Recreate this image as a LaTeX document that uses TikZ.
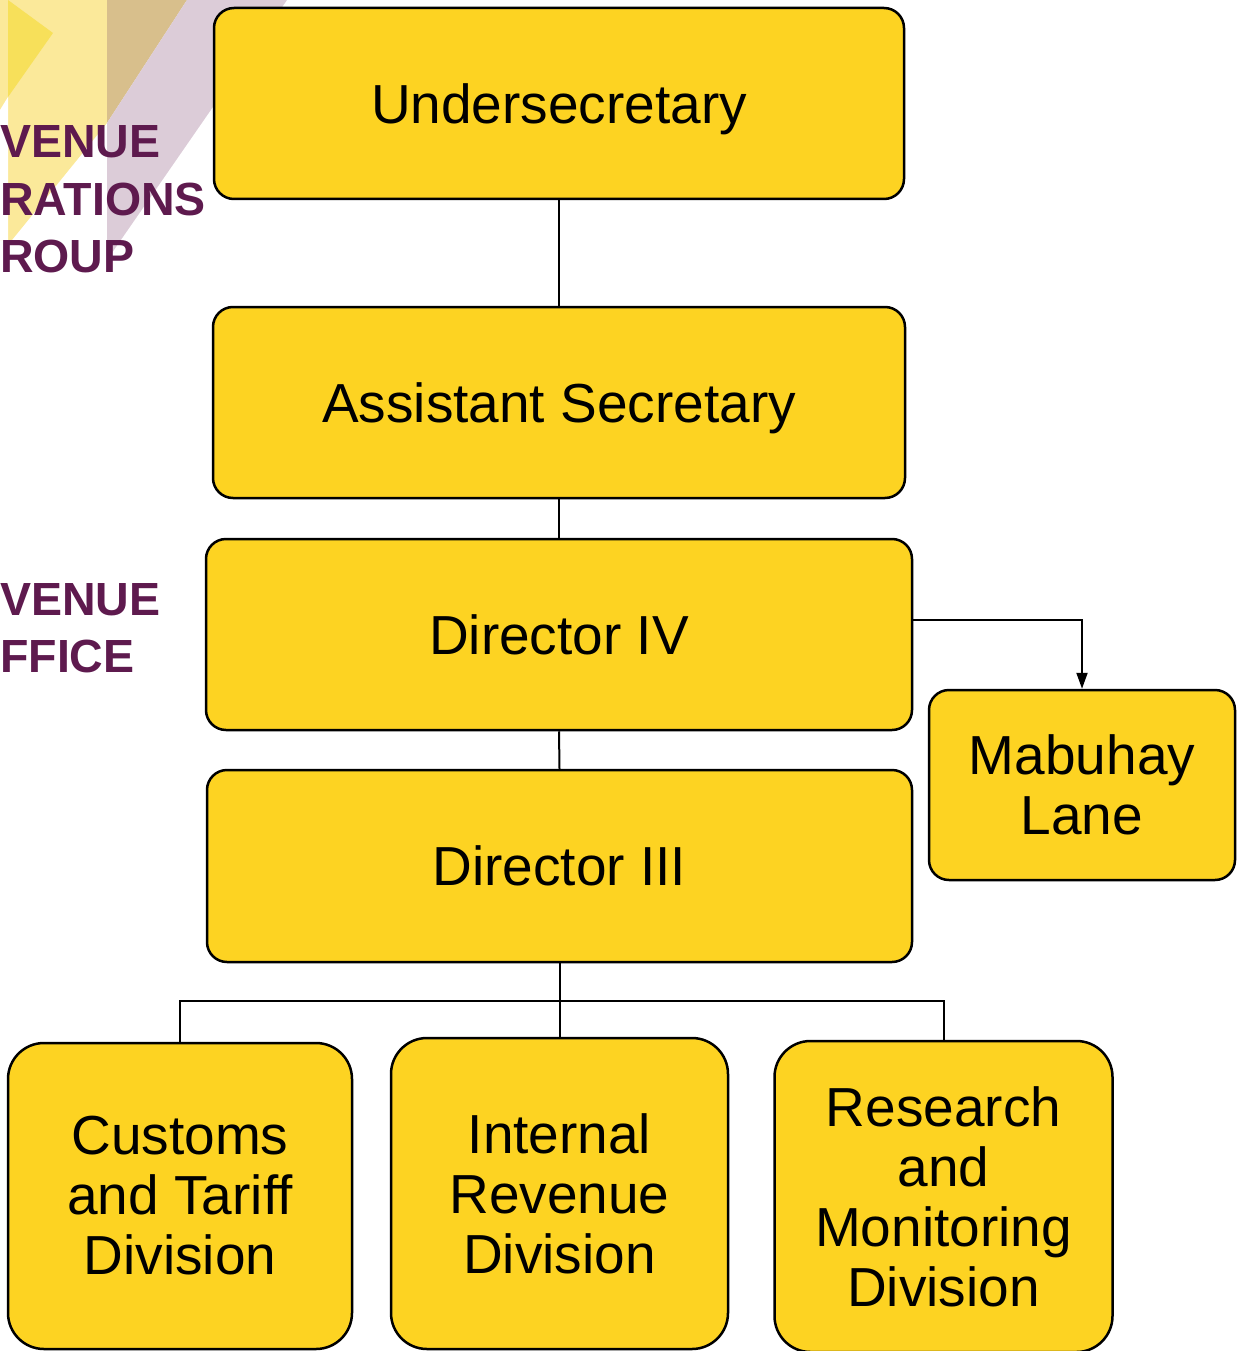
\documentclass[tikz,border=0pt]{standalone}
\usepackage{fontspec}
\setmainfont{Liberation Sans}
\usetikzlibrary{arrows.meta}
\definecolor{boxfill}{HTML}{FDD322}
\definecolor{purp}{HTML}{5E1A4E}
\definecolor{lyel}{HTML}{FBE99A}
\definecolor{dyel}{HTML}{F7E05A}
\definecolor{tan}{HTML}{D8BF8C}
\definecolor{mauve}{HTML}{DCCCD8}
\tikzset{
  orgbox/.style={draw=black, line width=2.5pt, fill=boxfill, rounded corners=20pt,
    align=center, inner sep=0pt, font=\fontsize{55}{60}\selectfont},
  onebox/.style={orgbox, text height=39.4pt, text depth=0pt},
  lowbox/.style={orgbox, rounded corners=36pt},
  conn/.style={draw=black, line width=2pt},
  bgtext/.style={text=purp, anchor=base west, inner sep=0pt,
    font=\fontsize{46.5}{57}\selectfont\bfseries}
}
\begin{document}
\begin{tikzpicture}[x=1pt,y=-1pt]
\useasboundingbox (0,0) rectangle (1236,1351);
% background decoration
\fill[lyel] (0,0) -- (107,0) -- (107,123) -- (12,240) -- (0,240) -- cycle;
\fill[dyel] (8,0) -- (53,33) -- (8,97) -- cycle;
\fill[tan] (107,0) -- (187,0) -- (107,123) -- cycle;
\fill[mauve] (187,0) -- (287,0) -- (107,260) -- (107,123) -- cycle;
\fill[white] (0,110) -- (8,97) -- (8,240) -- (0,240) -- cycle;
\node[bgtext] (t1) at (0,158) {VENUE};
\node[bgtext] (t2) at (0,215) {RATIONS};
\node[bgtext] (t3) at (0,272) {ROUP};
\node[bgtext] (t4) at (0,615) {VENUE};
\node[bgtext] (t5) at (0,672) {FFICE};
% boxes
\node[onebox, minimum width=690pt, minimum height=191pt] (us) at (559,103.5) {Undersecretary};
\node[onebox, minimum width=692pt, minimum height=191pt] (as) at (559,402.5) {Assistant Secretary};
\node[onebox, minimum width=706pt, minimum height=191pt] (d4) at (559,634.5) {Director IV};
\node[onebox, minimum width=705pt, minimum height=192pt] (d3) at (559.5,866) {Director III};
\node[orgbox, minimum width=306pt, minimum height=190pt] (mab) at (1082,785) {Mabuhay\\Lane};
\node[lowbox, minimum width=344pt, minimum height=306pt] (cust) at (180,1196) {Customs\\and Tariff\\Division};
\node[lowbox, minimum width=337pt, minimum height=311pt] (intr) at (559.5,1193.5) {Internal\\Revenue\\Division};
\node[lowbox, minimum width=338pt, minimum height=311pt] (res) at (943.5,1196.5) {Research\\and\\Monitoring\\Division};
% connectors
\draw[conn] (us.south) -- (as.north);
\draw[conn] (as.south) -- (d4.north);
\draw[conn] (d4.south) -- (d3.north);
\draw[conn, -{Triangle[length=16pt,width=11pt]}] ([yshift=14.5pt,xshift=-2pt]d4.east) -| (mab.north);
\coordinate (bus) at (559.5,1001);
\draw[conn] (d3.south) -- (bus);
\draw[conn] (bus) -| (cust.north);
\draw[conn] (bus) -| (res.north);
\draw[conn] (bus) -- (intr.north);
\end{tikzpicture}
\end{document}
